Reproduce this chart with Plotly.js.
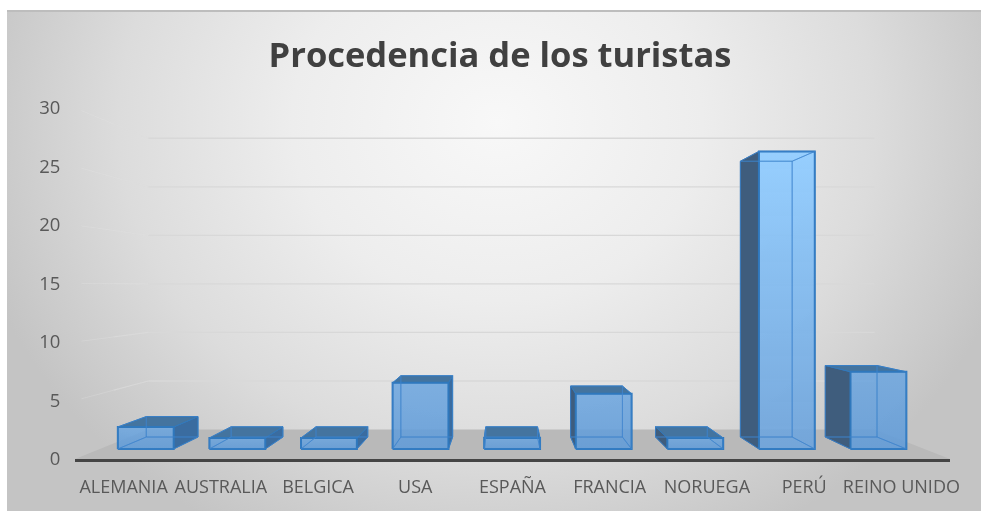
<!DOCTYPE html>
<html><head><meta charset="utf-8">
<script src="https://cdn.plot.ly/plotly-3.0.1.min.js"></script>
<style>
html,body{margin:0;padding:0;background:#fff;width:981px;height:511px;overflow:hidden}
#bg{position:absolute;left:7px;top:10px;width:974px;height:501px;box-sizing:border-box;border-top:2px solid #bdbdbd;
background:radial-gradient(ellipse 540px 470px at 490px 110px,#f8f8f8 0%,#ededed 38%,#dcdcdc 70%,#c4c4c4 100%)}
#chart{position:absolute;left:0;top:0;width:981px;height:511px;filter:blur(0.5px)}
</style></head><body>
<div id="bg"></div><div id="chart"></div>
<script>
var categories=['ALEMANIA','AUSTRALIA','BELGICA','USA','ESPAÑA','FRANCIA','NORUEGA','PERÚ','REINO UNIDO'];
var visitors=[2,1,1,6,1,5,1,27,7];
var yTicks=[0,5,10,15,20,25,30];

// camera model, in data units
var vanishX=3.93, vanishY=14.8;
var backScale=0.83, barFrontScale=0.942, barBackScale=0.873, barHalf=0.305;
var sideWallScale=0.985;

function px(x,s){return vanishX+(x-vanishX)*s;}
function py(y,s){return vanishY+(y-vanishY)*s;}
function poly(points,o){
  var t={type:'scatter',mode:'lines',hoverinfo:'skip',showlegend:false,cliponaxis:false,
    x:points.map(function(p){return px(p[0],p[2]);}),
    y:points.map(function(p){return py(p[1],p[2]);}),
    line:{color:o.line||'rgba(0,0,0,0)',width:o.width===undefined?1:o.width}};
  if(o.fill){t.fill='toself';t.fillcolor=o.fill;}
  if(o.grad){t.fill='toself';t.fillgradient=o.grad;}
  return t;
}
var traces=[];
var xMin=-0.5,xMax=8.5;
// floor
traces.push(poly([[xMin,0,1],[xMin,0,backScale],[xMax,0,backScale],[xMax,0,1],[xMin,0,1]],{fill:'#b9b9b9'}));
// wall gridlines
yTicks.slice(1).forEach(function(v){
  traces.push(poly([[xMin,v,backScale],[xMax,v,backScale]],{line:'#d8d8d8',width:1.3}));
  traces.push(poly([[xMin,v,backScale],[xMin,v,0.91]],{line:'rgba(222,222,222,.6)',width:1.2}));
  traces.push(poly([[xMin,v,0.91],[xMin,v,sideWallScale]],{line:'rgba(228,228,228,.3)',width:1}));
});
// bars
visitors.forEach(function(v,i){
  var l=i-barHalf,r=i+barHalf,f=barFrontScale,b=barBackScale;
  var edge='#2f78bd',inner='rgba(62,132,205,.6)';
  var isTall=v>vanishY;
  var frontGrad=isTall
    ?{type:'vertical',colorscale:[[0,'rgba(108,163,220,.9)'],[1,'rgba(146,205,255,.95)']]}
    :{type:'vertical',colorscale:[[0,'rgba(96,155,216,.88)'],[1,'rgba(110,166,222,.88)']]};
  var backRect=[[l,v,b],[r,v,b],[r,0,b],[l,0,b],[l,v,b]];
  var floorRect=[[l,0,f],[r,0,f],[r,0,b],[l,0,b],[l,0,f]];
  var rightRect=[[r,0,f],[r,v,f],[r,v,b],[r,0,b],[r,0,f]];
  var leftRect=[[l,0,f],[l,v,f],[l,v,b],[l,0,b],[l,0,f]];
  var topRect=[[l,v,f],[r,v,f],[r,v,b],[l,v,b],[l,v,f]];
  var leftVisible=px(l,b)<px(l,f), rightVisible=px(r,b)>px(r,f);
  if(rightVisible)traces.push(poly(rightRect,{fill:'#3a6ca0',line:edge}));
  if(leftVisible)traces.push(poly(leftRect,{fill:'#3f5d7d',line:'#2f6ba8'}));
  if(!isTall)traces.push(poly(topRect,{fill:'#44749f',line:edge}));
  traces.push(poly([[l,0,f],[r,0,f],[r,v,f],[l,v,f],[l,0,f]],{grad:frontGrad,line:edge,width:2}));
  // edges seen through the translucent front face
  traces.push(poly(backRect,{line:inner}));
  traces.push(poly(floorRect,{line:inner}));
  if(!rightVisible)traces.push(poly(rightRect,{line:inner}));
  if(!leftVisible)traces.push(poly(leftRect,{line:inner}));
  if(isTall)traces.push(poly(topRect,{line:inner}));
});
var layout={
  width:981,height:511,
  paper_bgcolor:'rgba(0,0,0,0)',plot_bgcolor:'rgba(0,0,0,0)',
  margin:{l:75,r:31,t:108,b:52,pad:0},
  showlegend:false,
  title:{text:'Procedencia de los turistas',xref:'paper',x:(500-75)/(981-75-31),xanchor:'center',
    yref:'container',y:0.893,yanchor:'middle',
    font:{family:'"Open Sans",sans-serif',size:34.5,weight:700,color:'#404040'}},
  xaxis:{range:[xMin,xMax],tickmode:'array',tickvals:categories.map(function(c,i){return i;}),ticktext:categories,
    showgrid:false,zeroline:false,showline:true,linecolor:'#454545',linewidth:3,
    ticks:'outside',ticklen:9,tickcolor:'rgba(0,0,0,0)',
    tickfont:{family:'"Open Sans",sans-serif',size:18,color:'#595959'}},
  yaxis:{range:[0,30],tickmode:'array',tickvals:yTicks,ticktext:yTicks.map(String),
    showgrid:false,zeroline:false,showline:false,
    ticks:'outside',ticklen:10,tickcolor:'rgba(0,0,0,0)',
    tickfont:{family:'"Open Sans",sans-serif',size:18.5,color:'#595959'}}
};
Plotly.newPlot('chart',traces,layout,{displayModeBar:false,staticPlot:true});
</script></body></html>
